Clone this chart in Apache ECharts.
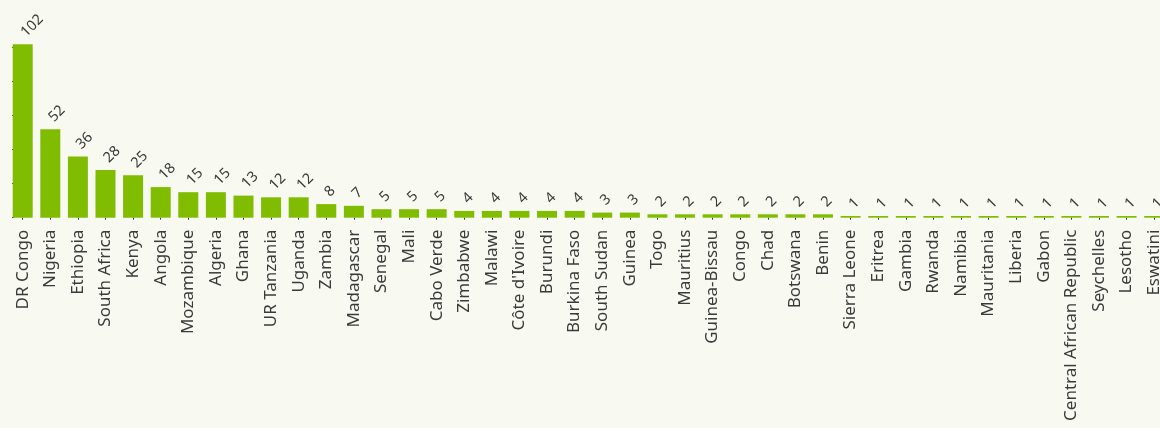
<!DOCTYPE html>
<html>
<head>
<meta charset="utf-8">
<script src="https://cdn.jsdelivr.net/npm/echarts@6/dist/echarts.min.js"></script>
<style>
  html, body { margin: 0; padding: 0; background: #f8faf2; overflow: hidden; }
  #chart { width: 1168px; height: 428px; }
</style>
</head>
<body>
<div id="chart"></div>
<script>
// Countries, ordered by count
const countries = [
  'DR Congo', 'Nigeria', 'Ethiopia', 'South Africa', 'Kenya', 'Angola',
  'Mozambique', 'Algeria', 'Ghana', 'UR Tanzania', 'Uganda', 'Zambia',
  'Madagascar', 'Senegal', 'Mali', 'Cabo Verde', 'Zimbabwe', 'Malawi',
  "Côte d'Ivoire", 'Burundi', 'Burkina Faso', 'South Sudan', 'Guinea', 'Togo',
  'Mauritius', 'Guinea-Bissau', 'Congo', 'Chad', 'Botswana', 'Benin',
  'Sierra Leone', 'Eritrea', 'Gambia', 'Rwanda', 'Namibia', 'Mauritania',
  'Liberia', 'Gabon', 'Central African Republic', 'Seychelles', 'Lesotho', 'Eswatini'
];
const counts = [
  102, 52, 36, 28, 25, 18,
  15, 15, 13, 12, 12, 8,
  7, 5, 5, 5, 4, 4,
  4, 4, 4, 3, 3, 2,
  2, 2, 2, 2, 2, 2,
  1, 1, 1, 1, 1, 1,
  1, 1, 1, 1, 1, 1
];
const yTicks = [0, 20, 40, 60, 80, 100];

const chart = echarts.init(document.getElementById('chart'));
const textColor = '#3a3a3a';
chart.setOption({
  backgroundColor: '#f8faf2',
  animation: false,
  textStyle: { fontFamily: 'Noto Sans' },
  grid: { left: 8.9, right: 0, top: 44.3, bottom: 210.3, containLabel: false },
  xAxis: {
    type: 'category',
    data: countries,
    axisLine: { show: false },
    axisTick: { show: true, alignWithLabel: true, length: 2, lineStyle: { color: '#333' } },
    axisLabel: {
      rotate: 90, interval: 0, margin: 12,
      fontSize: 17, color: textColor, fontFamily: 'Noto Sans'
    }
  },
  yAxis: {
    type: 'value',
    min: 0, max: 102,
    offset: -3.2,
    axisLine: { show: false },
    axisTick: { show: true, inside: true, length: 2, customValues: yTicks, lineStyle: { color: '#333' } },
    axisLabel: { show: false },
    splitLine: { show: false }
  },
  series: [{
    type: 'bar',
    data: counts,
    barWidth: 20,
    itemStyle: { color: '#80bc00' },
    label: {
      show: true,
      position: 'top',
      distance: 9,
      offset: [1, 0],
      rotate: 45,
      align: 'left',
      verticalAlign: 'middle',
      fontSize: 14.5,
      color: textColor,
      fontFamily: 'Noto Sans'
    }
  }]
});
</script>
</body>
</html>
